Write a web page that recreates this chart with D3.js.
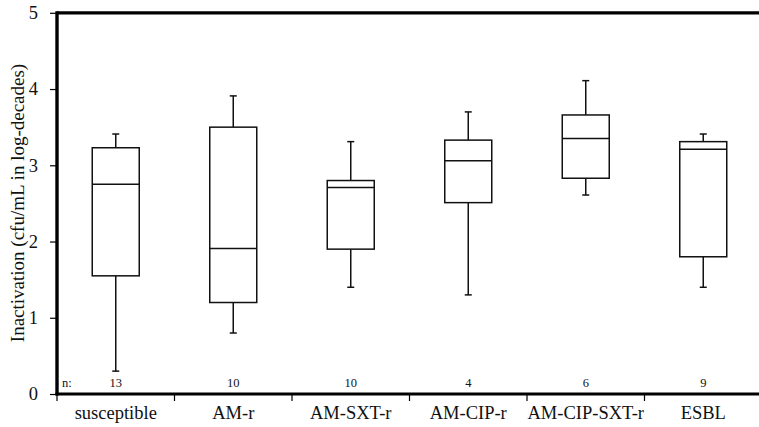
<!DOCTYPE html>
<html><head><meta charset="utf-8">
<script src="https://cdn.jsdelivr.net/npm/d3@7"></script>
<style>body{margin:0;background:#fff}svg{display:block}</style>
</head><body>
<svg id="c" width="759" height="427"></svg>
<script>
const categories = ["susceptible","AM-r","AM-SXT-r","AM-CIP-r","AM-CIP-SXT-r","ESBL"];
const whiskerLow  = [0.30, 0.80, 1.40, 1.30, 2.61, 1.40];
const q1          = [1.55, 1.20, 1.90, 2.51, 2.83, 1.80];
const median      = [2.75, 1.91, 2.71, 3.06, 3.35, 3.21];
const q3          = [3.23, 3.50, 2.80, 3.33, 3.66, 3.31];
const whiskerHigh = [3.41, 3.91, 3.31, 3.70, 4.11, 3.41];
const counts      = [13, 10, 10, 4, 6, 9];
const yTicks      = [0, 1, 2, 3, 4, 5];

const svg = d3.select("#c");
const font = "'Liberation Serif','Times New Roman',serif";
const x = d3.scaleBand().domain(categories).range([57, 762]).paddingInner(0).paddingOuter(0);
const y = d3.scaleLinear().domain([0, 5]).range([394, 12.8]);

const data = categories.map((c, i) => ({c, lo: whiskerLow[i], q1: q1[i], med: median[i], q3: q3[i], hi: whiskerHigh[i], n: counts[i]}));
const bw = 47, cap = 7;

const g = svg.append("g").attr("stroke", "#111").attr("stroke-width", 1.5).attr("fill", "none");
const box = g.selectAll("g.box").data(data).join("g").attr("class", "box")
  .attr("transform", d => `translate(${x(d.c) + x.bandwidth()/2},0)`);
box.append("line").attr("x1", 0).attr("x2", 0).attr("y1", d => y(d.hi)).attr("y2", d => y(d.q3));
box.append("line").attr("x1", 0).attr("x2", 0).attr("y1", d => y(d.q1)).attr("y2", d => y(d.lo));
box.append("line").attr("x1", -cap/2).attr("x2", cap/2).attr("y1", d => y(d.hi)).attr("y2", d => y(d.hi));
box.append("line").attr("x1", -cap/2).attr("x2", cap/2).attr("y1", d => y(d.lo)).attr("y2", d => y(d.lo));
box.append("rect").attr("x", -bw/2).attr("width", bw).attr("y", d => y(d.q3)).attr("height", d => y(d.q1) - y(d.q3)).attr("fill", "#fff");
box.append("line").attr("x1", -bw/2).attr("x2", bw/2).attr("y1", d => y(d.med)).attr("y2", d => y(d.med));

// n labels
svg.append("text").attr("x", 62).attr("y", 387).attr("font-family", font).attr("font-size", 12.5).attr("fill", "#111").text("n:");
svg.selectAll("text.n").data(data).join("text").attr("class", "n")
  .attr("x", d => x(d.c) + x.bandwidth()/2).attr("y", 387).attr("text-anchor", "middle")
  .attr("font-family", font).attr("font-size", 12.5).attr("fill", "#111").text(d => d.n);

// top border
svg.append("line").attr("x1", 57).attr("x2", 759).attr("y1", y(5)).attr("y2", y(5)).attr("stroke", "#000").attr("stroke-width", 3.2);

// y axis
const ya = svg.append("g").attr("transform", "translate(57,0)")
  .call(d3.axisLeft(y).tickValues(yTicks).tickSize(7).tickPadding(12).tickFormat(d3.format("d")));
ya.select(".domain").remove();
ya.selectAll(".tick line").attr("stroke", "#000").attr("stroke-width", 1.2);
ya.selectAll("text").attr("font-family", font).attr("font-size", 18.5).attr("fill", "#111");
svg.append("line").attr("x1", 57).attr("x2", 57).attr("y1", y(5) - 1.6).attr("y2", y(0) + 1.6).attr("stroke", "#000").attr("stroke-width", 3.4);

// x axis
const xa = svg.append("g").attr("transform", `translate(0,${y(0)})`)
  .call(d3.axisBottom(x).tickSize(0).tickPadding(12));
xa.select(".domain").remove();
xa.selectAll("text").attr("font-family", font).attr("font-size", 18.5).attr("fill", "#111");
const bounds = [57].concat(categories.map(c => x(c) + x.bandwidth()));
svg.selectAll("line.xt").data(bounds).join("line").attr("class", "xt")
  .attr("x1", d => d).attr("x2", d => d).attr("y1", y(0)).attr("y2", y(0) + 7).attr("stroke", "#000").attr("stroke-width", 1.2);
svg.append("line").attr("x1", 55.5).attr("x2", 759).attr("y1", y(0)).attr("y2", y(0)).attr("stroke", "#000").attr("stroke-width", 3.2);

// y label
svg.append("text").attr("transform", "translate(24,203) rotate(-90)").attr("text-anchor", "middle")
  .attr("font-family", font).attr("font-size", 19).attr("fill", "#111")
  .text("Inactivation (cfu/mL in log-decades)");
</script>
</body></html>
